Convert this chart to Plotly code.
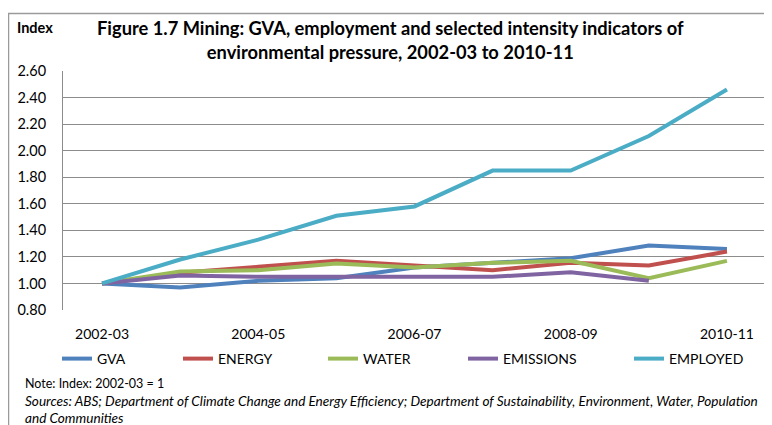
import plotly.graph_objects as go

years = ["2002-03", "2003-04", "2004-05", "2005-06", "2006-07",
         "2007-08", "2008-09", "2009-10", "2010-11"]
tick_years = ["2002-03", "2004-05", "2006-07", "2008-09", "2010-11"]

gva = [1.00, 0.97, 1.02, 1.04, 1.12, 1.155, 1.19, 1.285, 1.26]
energy = [1.00, 1.08, 1.125, 1.17, 1.135, 1.10, 1.155, 1.135, 1.24]
water = [1.00, 1.09, 1.10, 1.15, 1.12, 1.155, 1.17, 1.04, 1.17]
emissions = [1.00, 1.06, 1.05, 1.05, 1.055, 1.05, 1.085, 1.02, None]
employed = [1.00, 1.18, 1.33, 1.51, 1.58, 1.85, 1.85, 2.11, 2.46]

series = [
    ("GVA", gva, "#4F81BD"),
    ("ENERGY", energy, "#C0504D"),
    ("WATER", water, "#9BBB59"),
    ("EMISSIONS", emissions, "#8064A2"),
    ("EMPLOYED", employed, "#4BACC6"),
]

FONT = "Lato, Carlito, Calibri, sans-serif"

# The page body has an 8px margin, so the figure is drawn 8px smaller and
# all target positions below are given in window pixels.
W, H = 764, 417
L, R, T, B = 55, 6, 63, 115
PW, PH = W - L - R, H - T - B


def px(X):
    return (X - 8 - L) / PW


def py(Y):
    return (H - B - (Y - 8)) / PH


# left edge of each legend label text in the reference
legend_text_x = [101, 222, 367, 507, 673]

fig = go.Figure()
for i, (name, vals, col) in enumerate(series):
    lg = "legend" if i == 0 else f"legend{i + 1}"
    fig.add_trace(go.Scatter(x=years, y=vals, name=name, mode="lines",
                             line=dict(color=col, width=4),
                             connectgaps=False, legend=lg))

layout_legends = {}
for i, tx in enumerate(legend_text_x):
    lg = "legend" if i == 0 else f"legend{i + 1}"
    layout_legends[lg] = dict(orientation="h", x=px(tx - 44), y=py(359),
                              xanchor="left", yanchor="middle",
                              font=dict(family=FONT, size=14, color="#000000"),
                              itemwidth=30, bgcolor="rgba(0,0,0,0)",
                              borderwidth=0)

fig.update_layout(
    width=W, height=H,
    margin=dict(l=L, r=R, t=T, b=B),
    paper_bgcolor="white", plot_bgcolor="white",
    font=dict(family=FONT, size=14, color="#000000"),
    showlegend=True,
    xaxis=dict(type="category", categoryorder="array", categoryarray=years,
               range=[-0.5, 8.5], tickvals=tick_years, ticktext=tick_years,
               showgrid=False, showline=False, zeroline=False, ticks="",
               tickfont=dict(family=FONT, size=14), ticklabelstandoff=14),
    yaxis=dict(range=[0.8, 2.6], dtick=0.2, tick0=0.8, tickformat=".2f",
               showgrid=True, gridcolor="#8C8C8C", gridwidth=1,
               showline=True, linecolor="#8C8C8C", linewidth=1,
               zeroline=False, ticks="",
               tickfont=dict(family=FONT, size=14.5), ticklabelstandoff=13),
    shapes=[
        dict(type="line", xref="paper", yref="paper",
             x0=px(8), x1=px(772), y0=py(13.5), y1=py(13.5),
             line=dict(color="#9A9A9A", width=1.5), layer="above"),
        dict(type="line", xref="paper", yref="paper",
             x0=px(8.5), x1=px(8.5), y0=py(13.5), y1=py(425),
             line=dict(color="#9A9A9A", width=1.5), layer="above"),
    ],
    **layout_legends,
)

fig.add_annotation(text="<b>Figure 1.7 Mining: GVA, employment and selected intensity indicators of<br>environmental pressure, 2002-03 to 2010-11</b>",
                   xref="paper", yref="paper", x=px(390), y=py(40),
                   xanchor="center", yanchor="middle", showarrow=False,
                   font=dict(family=FONT, size=18.3, color="#000000"), align="center")
fig.add_annotation(text="<b>Index</b>", xref="paper", yref="paper", x=px(15), y=py(28),
                   xanchor="left", yanchor="middle", showarrow=False,
                   font=dict(family=FONT, size=14.5, color="#000000"))
fig.add_annotation(text="Note: Index: 2002-03 = 1", xref="paper", yref="paper",
                   x=px(23), y=py(383), xanchor="left", yanchor="middle", showarrow=False,
                   font=dict(family=FONT, size=12.5, color="#000000"))
fig.add_annotation(text="<i>Sources: ABS; Department of Climate Change and Energy Efficiency; Department of Sustainability, Environment, Water, Population</i>",
                   xref="paper", yref="paper",
                   x=px(23), y=py(401), xanchor="left", yanchor="middle", showarrow=False,
                   font=dict(family=FONT, size=13.6, color="#000000"))
fig.add_annotation(text="<i>and Communities</i>", xref="paper", yref="paper",
                   x=px(23), y=py(418), xanchor="left", yanchor="middle", showarrow=False,
                   font=dict(family=FONT, size=13.6, color="#000000"))

fig.write_html("out.html")
